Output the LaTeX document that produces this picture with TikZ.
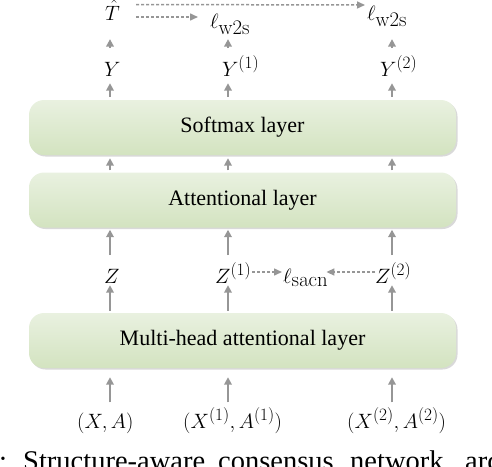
\documentclass[tikz,border=0pt]{standalone}
\usepackage[no-math]{fontspec}
\setmainfont{Liberation Serif}
\DeclareMathSizes{21}{21}{17}{14}
\usetikzlibrary{arrows.meta,shadows,calc}
\definecolor{arr}{RGB}{150,150,150}
\definecolor{boxtop}{RGB}{233,241,224}
\definecolor{boxbot}{RGB}{211,227,192}
\begin{document}
\begin{tikzpicture}[x=1pt,y=-1pt,
  layerbox/.style={rounded corners=15pt, top color=boxtop, bottom color=boxbot, draw=none,
    minimum width=427pt, minimum height=55pt, inner sep=0pt,
    font=\fontsize{22}{26}\selectfont,
    drop shadow={shadow xshift=1.5pt, shadow yshift=-1.5pt, opacity=0.3, fill=gray}},
  lab/.style={inner sep=0pt, anchor=base west, font=\fontsize{21}{25}\selectfont},
  up/.style={draw=arr, line width=2pt, -{Triangle[length=7.5pt,width=7.5pt]}},
  dasharr/.style={draw=arr, line width=1.5pt, dash pattern=on 3pt off 2pt, -{Triangle[length=8pt,width=7pt]}},
  captxt/.style={anchor=base west, inner sep=0pt, font=\fontsize{28.5}{32}\selectfont},
]
\useasboundingbox (0,0) rectangle (492,466);
\clip (0,0) rectangle (492,466);

\coordinate (c1) at (110,0);
\coordinate (c2) at (228,0);
\coordinate (c3) at (392,0);

\node[layerbox] (soft) at (242.5,127.5) {Softmax layer};
\node[layerbox] (att) at (242.5,200) {Attentional layer};
\node[layerbox] (mha) at (242.5,340.5) {Multi-head attentional layer};

\node[lab] (That) at (105,20) {$\hat{T}$};
\node[lab] (lw1) at (210,28) {$\ell_{\textstyle\mathrm{w2s}}$};
\node[lab] (lw2) at (367,20) {$\ell_{\textstyle\mathrm{w2s}}$};
\node[lab] (Y) at (104,76) {$Y$};
\node[lab] (Y1) at (222,76) {$Y^{(1)}$};
\node[lab] (Y2) at (380,76) {$Y^{(2)}$};
\node[lab] (Z) at (104,283) {$Z$};
\node[lab] (Z1) at (215,283) {$Z^{(1)}$};
\node[lab] (ls) at (283,283) {$\ell_{\textstyle\mathrm{sacn}}$};
\node[lab] (Z2) at (375,283) {$Z^{(2)}$};
\node[lab] (XA) at (77,428) {$(X,A)$};
\node[lab] (XA1) at (183,428) {$(X^{(1)},A^{(1)})$};
\node[lab] (XA2) at (347,428) {$(X^{(2)},A^{(2)})$};

% vertical arrows
\foreach \c in {c1,c2,c3}{
  \draw[up, shorten <=10pt, shorten >=9pt] (\c |- XA.north) -- (\c |- mha.south);
  \draw[up, shorten <=2pt, shorten >=2pt] (\c |- mha.north) -- (\c |- Z.south);
  \draw[up, shorten <=13.5pt, shorten >=2pt] (\c |- Z.north) -- (\c |- att.south);
  \draw[up, shorten <=2pt, shorten >=3pt] (\c |- att.north) -- (\c |- soft.south);
  \draw[up, shorten <=3pt, shorten >=7pt] (\c |- soft.north) -- (\c |- Y.south);
  \draw[up] ($(\c |- Y.north)+(0,-13.5)$) -- ($(\c |- Y.north)+(0,-22.5)$);
}

% dashed arrows
\draw[dasharr] ([xshift=16pt,yshift=15.5pt]That.base east) -- ([xshift=-2pt,yshift=15pt]lw2.base west);
\draw[dasharr] ([xshift=16pt,yshift=3pt]That.base east) -- ([xshift=-12pt,yshift=11pt]lw1.base west);
\draw[dasharr, shorten >=1pt] ([xshift=1pt,yshift=11pt]Z1.base east) -- ([yshift=11pt]Z1.base east -| ls.base west);
\draw[dasharr, shorten >=-2pt] ([yshift=11pt]Z2.base west) -- ([yshift=11pt]Z2.base west -| ls.base east);

% caption (cropped)
\node[captxt] (cap0) at (-1,470) {:};
\node[captxt] (cap1) at (23,470) {Structure-aware};
\node[captxt] (cap2) at (218,470) {consensus};
\node[captxt] (cap3) at (350,470) {network};
\node[captxt] (cap4) at (465,470) {arc};
\end{tikzpicture}
\end{document}
